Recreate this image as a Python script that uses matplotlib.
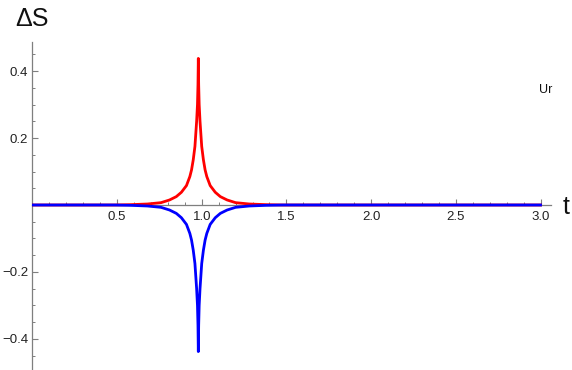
import matplotlib
matplotlib.use("Agg")
import matplotlib.pyplot as plt
from matplotlib.ticker import MultipleLocator, FixedLocator

plt.rcParams['font.family'] = ['Liberation Sans', 'DejaVu Sans']

# Data
t_red = [0.0, 0.3, 0.48, 0.58, 0.68, 0.76, 0.81, 0.85, 0.88, 0.91, 0.93, 0.94,
         0.95, 0.96, 0.97, 0.975, 0.978, 0.98, 0.982, 0.985, 0.99, 1.0, 1.01,
         1.02, 1.03, 1.05, 1.08, 1.11, 1.15, 1.2, 1.28, 1.38, 1.48, 1.7, 3.0]
s_red = [0.0, 0.0, 0.0, 0.001, 0.003, 0.007, 0.015, 0.025, 0.038, 0.058, 0.085, 0.105,
         0.135, 0.175, 0.25, 0.30, 0.36, 0.438, 0.36, 0.30, 0.25, 0.175, 0.135,
         0.105, 0.085, 0.058, 0.038, 0.025, 0.015, 0.007, 0.003, 0.001, 0.0, 0.0, 0.0]
t_blue = t_red
s_blue = [0.0, 0.0, 0.0, -0.001, -0.003, -0.007, -0.015, -0.025, -0.038, -0.058, -0.085, -0.105,
          -0.135, -0.175, -0.25, -0.30, -0.36, -0.438, -0.36, -0.30, -0.25, -0.175, -0.135,
          -0.105, -0.085, -0.058, -0.038, -0.025, -0.015, -0.007, -0.003, -0.001, 0.0, 0.0, 0.0]

x_major = [0.5, 1.0, 1.5, 2.0, 2.5, 3.0]
x_labels = ["0.5", "1.0", "1.5", "2.0", "2.5", "3.0"]
y_major = [-0.4, -0.2, 0.2, 0.4]
y_labels = ["\u22120.4", "\u22120.2", "0.2", "0.4"]

W, H = 572, 370
fig = plt.figure(figsize=(W / 100, H / 100), dpi=100)
x0px, x1px = 32.3, 550.7
ytop, ybot = 42, 370
ax = fig.add_axes([x0px / W, 1 - ybot / H, (x1px - x0px) / W, (ybot - ytop) / H])
ax.set_xlim(0, 3.06)
ax.set_ylim(-0.493, 0.487)

ax.plot(t_red, s_red, color='#ff0000', lw=2.0, solid_joinstyle='round', zorder=3)
ax.plot(t_blue, s_blue, color='#0000ff', lw=2.0, solid_joinstyle='round', zorder=4)

for s in ['top', 'right']:
    ax.spines[s].set_visible(False)
ax.spines['bottom'].set_position(('data', 0))
ax.spines['left'].set_position(('data', 0))
for s in ['bottom', 'left']:
    ax.spines[s].set_color('#7f7f7f')
    ax.spines[s].set_linewidth(0.9)

ax.xaxis.set_major_locator(FixedLocator(x_major))
ax.set_xticklabels(x_labels)
ax.xaxis.set_minor_locator(MultipleLocator(0.1))
ax.yaxis.set_major_locator(FixedLocator(y_major))
ax.set_yticklabels(y_labels)
ax.yaxis.set_minor_locator(MultipleLocator(0.05))

ax.tick_params(axis='both', which='major', direction='in', length=4.5, width=0.8,
               color='#7f7f7f', labelsize=9.5, labelcolor='#222222')
ax.tick_params(axis='both', which='minor', direction='in', length=2.5, width=0.7,
               color='#7f7f7f')
ax.tick_params(axis='x', which='major', pad=4)
ax.tick_params(axis='y', which='major', pad=3)
ax.set_facecolor('none')

fig.text(15 / W, 1 - 19 / H, "\u0394S", fontsize=18, ha='left', va='center', color='#111111')
fig.text(566 / W, 1 - 207 / H, "t", fontsize=18, ha='center', va='center', color='#111111')
fig.text(546 / W, 1 - 90 / H, "Ur", fontsize=9, ha='center', va='center', color='#111111')

fig.savefig("out.png", dpi=100)
